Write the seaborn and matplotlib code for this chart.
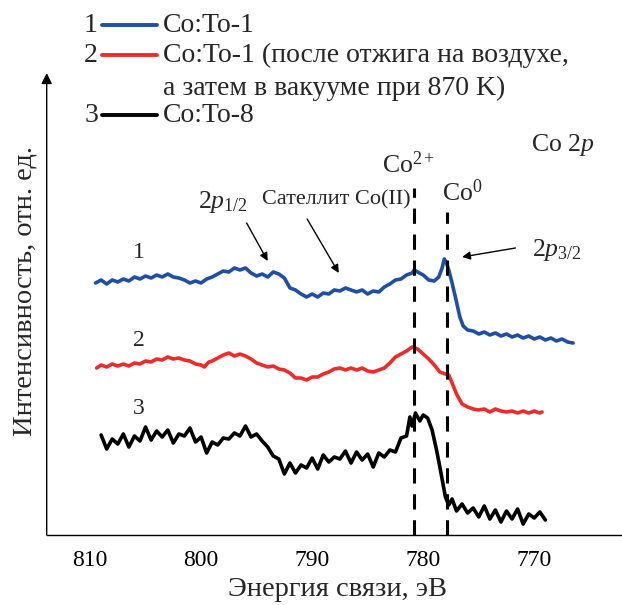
import matplotlib
matplotlib.use("Agg")
import matplotlib.pyplot as plt
import seaborn as sns
import pandas as pd
from matplotlib.lines import Line2D

# ---------------- data ----------------
e1 = [809.5, 809.0, 808.5, 808.0, 807.5, 807.0, 806.5, 806.0, 805.5, 805.0, 804.5, 804.0,
      803.5, 803.0, 802.5, 802.0, 801.5, 801.0, 800.5, 800.0, 799.5, 799.0, 798.5, 798.0,
      797.5, 797.0, 796.5, 796.0, 795.5, 795.0, 794.5, 794.0, 793.5, 793.0, 792.5, 792.0,
      791.5, 791.0, 790.5, 790.0, 789.5, 789.0, 788.5, 788.0, 787.5, 787.0, 786.5, 786.0,
      785.5, 785.0, 784.5, 784.0, 783.5, 783.0, 782.5, 782.0, 781.5, 781.0, 780.8, 780.5,
      780.0, 779.5, 779.0, 778.6, 778.3, 778.1, 777.9, 777.7, 777.4, 777.0, 776.7, 776.4,
      776.0, 775.5, 775.0, 774.5, 774.0, 773.5, 773.0, 772.5, 772.0, 771.5, 771.0, 770.5,
      770.0, 769.5, 769.0, 768.5, 768.0, 767.5, 767.0, 766.5]
i1 = [252, 255, 251, 255, 253, 256, 254, 258, 256, 259, 257, 260,
      258, 261, 258, 257, 255, 252, 254, 252, 256, 258, 261, 264,
      263, 267, 265, 267, 262, 259, 261, 258, 263, 261, 257, 247,
      245, 241, 238, 241, 238, 242, 241, 245, 244, 247, 245, 243,
      245, 241, 244, 243, 248, 251, 255, 256, 260, 262, 265, 263,
      260, 255, 254, 258, 267, 276, 272, 265, 252, 233, 218, 209,
      205, 204, 201, 203, 200, 202, 199, 201, 198, 200, 197, 199,
      196, 198, 195, 197, 194, 196, 193, 192]

e2 = [809.4, 809.0, 808.5, 808.0, 807.5, 807.0, 806.5, 806.0, 805.5, 805.0, 804.5, 804.0,
      803.5, 803.0, 802.5, 802.0, 801.5, 801.0, 800.5, 800.0, 799.7, 799.3, 799.0, 798.5,
      798.0, 797.5, 797.0, 796.5, 796.0, 795.5, 795.0, 794.5, 794.0, 793.5, 793.0, 792.5,
      792.0, 791.5, 791.0, 790.5, 790.0, 789.5, 789.0, 788.5, 788.0, 787.5, 787.0, 786.5,
      786.0, 785.5, 785.0, 784.5, 784.0, 783.5, 783.0, 782.5, 782.0, 781.5, 781.0, 780.5,
      780.0, 779.5, 779.0, 778.5, 778.0, 777.7, 777.4, 777.0, 776.5, 776.0, 775.5, 775.0,
      774.5, 774.0, 773.5, 773.0, 772.5, 772.0, 771.5, 771.0, 770.5, 770.0, 769.5, 769.3]
i2 = [167, 170, 168, 171, 169, 171, 169, 172, 171, 174, 173, 176,
      175, 178, 176, 177, 175, 174, 171, 170, 168, 173, 174, 177,
      180, 182, 179, 181, 179, 176, 172, 170, 168, 169, 166, 165,
      162, 157, 157, 155, 158, 158, 161, 163, 166, 167, 165, 167,
      165, 167, 164, 163, 165, 167, 172, 178, 181, 184, 188, 186,
      181, 176, 170, 163, 161, 160, 152, 141, 131, 128, 126, 125,
      126, 123, 126, 124, 123, 124, 122, 124, 122, 124, 122, 123]

e3 = [809.0, 808.5, 808.0, 807.5, 807.0, 806.5, 806.0, 805.5, 805.0, 804.5, 804.0, 803.5,
      803.0, 802.5, 802.0, 801.5, 801.0, 800.5, 800.0, 799.5, 799.0, 798.5, 798.0, 797.5,
      797.0, 796.5, 796.0, 795.5, 795.0, 794.5, 794.0, 793.5, 793.0, 792.5, 792.0, 791.5,
      791.0, 790.5, 790.0, 789.5, 789.0, 788.5, 788.0, 787.5, 787.0, 786.5, 786.0, 785.5,
      785.0, 784.5, 784.0, 783.5, 783.0, 782.5, 782.0, 781.5, 781.2, 781.0, 780.7, 780.3,
      780.0, 779.6, 779.2, 778.8, 778.5, 778.2, 778.0, 777.7, 777.4, 777.0, 776.5, 776.0,
      775.5, 775.0, 774.5, 774.0, 773.5, 773.0, 772.5, 772.0, 771.5, 771.0, 770.5, 770.0,
      769.5, 769.0]
i3 = [100, 86, 96, 91, 101, 88, 99, 94, 108, 95, 104, 98,
      105, 92, 101, 99, 107, 93, 98, 82, 93, 90, 97, 96,
      102, 99, 109, 98, 101, 94, 88, 79, 76, 61, 72, 62,
      70, 67, 77, 66, 80, 73, 78, 76, 84, 72, 83, 75,
      81, 68, 82, 78, 85, 83, 97, 99, 118, 109, 122, 114,
      120, 117, 105, 85, 68, 50, 38, 30, 36, 24, 31, 22,
      27, 18, 29, 16, 25, 13, 24, 16, 26, 11, 21, 17,
      23, 15]

series_names = ["1", "2", "3"]
series_colors = ["#1f4fa5", "#ee2b2b", "#000000"]
legend_labels = ["Co:To-1",
                 "Co:To-1 (после отжига на воздухе,\nа затем в вакууме при 870 K)",
                 "Co:To-8"]
x_ticks = [810, 800, 790, 780, 770]
peak_lines = [780.8, 777.9]
peak_tops = [347, 323]

df = pd.concat([
    pd.DataFrame({"E": e1, "I": i1, "s": "1"}),
    pd.DataFrame({"E": e2, "I": i2, "s": "2"}),
    pd.DataFrame({"E": e3, "I": i3, "s": "3"}),
])

# ---------------- style ----------------
sns.set_style("white")
plt.rcParams["font.family"] = ["Liberation Serif", "DejaVu Serif"]
plt.rcParams["mathtext.fontset"] = "custom"
plt.rcParams["mathtext.rm"] = "Liberation Serif"
plt.rcParams["mathtext.it"] = "Liberation Serif:italic"

W, H = 622, 605
fig = plt.figure(figsize=(W / 100, H / 100), dpi=100)
ax_l, ax_b, ax_t = 46.7, 535, 73
ax = fig.add_axes([ax_l / W, 1 - ax_b / H, 1 - ax_l / W, (ax_b - ax_t) / H])

sns.lineplot(data=df, x="E", y="I", hue="s", palette=dict(zip(series_names, series_colors)),
             estimator=None, sort=False, legend=False, linewidth=2.6, ax=ax)

ax.set_xlim(813.9, 762.1)
ax.set_ylim(0, ax_b - ax_t)
ax.set_xticks(x_ticks)
ax.set_xticklabels([str(t) for t in x_ticks])
ax.set_yticks([])
ax.set_xlabel("")
ax.set_ylabel("")
for s in ["top", "right", "left"]:
    ax.spines[s].set_visible(False)
ax.spines["bottom"].set_linewidth(1.0)
ax.spines["bottom"].set_color("black")
ax.tick_params(axis="x", direction="out", length=6, width=1, pad=5, labelsize=17, colors="black")

# y axis arrow
ax.annotate("", xy=(0, 1), xytext=(0, 0), xycoords="axes fraction",
            arrowprops=dict(arrowstyle="-|>", lw=1.0, color="black", mutation_scale=16,
                            shrinkA=0, shrinkB=0))

# dashed lines
for xv, top in zip(peak_lines, peak_tops):
    ax.plot([xv, xv], [0, top], color="black", lw=2.2, dashes=(5, 3.5))

# labels on the plot
fs = 18.5
ax.text(781.35, 370, "Co$^{2+}$", fontsize=fs, ha="center", va="center")
ax.text(776.5, 342, "Co$^{0}$", fontsize=fs, ha="center", va="center")
ax.text(767.4, 390, "Co 2$p$", fontsize=fs, ha="center", va="center")
ax.text(768.0, 285, "2$p_{3/2}$", fontsize=fs, ha="center", va="center")
ax.text(798.0, 333, "2$p_{1/2}$", fontsize=fs, ha="center", va="center")
ax.text(787.8, 335, "Сателлит Co(II)", fontsize=16, ha="center", va="center")
ax.text(805.6, 283, "1", fontsize=17, ha="center", va="center")
ax.text(805.6, 194, "2", fontsize=17, ha="center", va="center")
ax.text(805.6, 126, "3", fontsize=17, ha="center", va="center")

arrow_kw = dict(arrowstyle="-|>", lw=1.0, color="black", mutation_scale=12, shrinkA=0, shrinkB=0)
ax.annotate("", xy=(776.5, 278), xytext=(771.7, 287), arrowprops=arrow_kw)
ax.annotate("", xy=(794.0, 274), xytext=(795.9, 312), arrowprops=arrow_kw)
ax.annotate("", xy=(787.6, 262), xytext=(790.45, 316), arrowprops=arrow_kw)

# x label and y label
fig.text(338 / W, 1 - 589 / H, "Энергия связи, эВ", fontsize=20.5, ha="center", va="center")
fig.text(25.5 / W, 1 - 291 / H, "Интенсивность, отн. ед.", fontsize=20.5, ha="center",
         va="center", rotation=90)

# manual legend
rows_y = [25, 55, 115]
row2_cont_y = 88
lfs = 20
for name, col, lab, yy in zip(series_names, series_colors, legend_labels, rows_y):
    fy = 1 - yy / H
    fig.text(91 / W, fy, name, fontsize=lfs, ha="center", va="center")
    fig.add_artist(Line2D([102 / W, 157 / W], [fy, fy], color=col, lw=2.8,
                          transform=fig.transFigure))
    parts = lab.split("\n")
    fig.text(163 / W, fy, parts[0], fontsize=lfs, ha="left", va="center")
    if len(parts) > 1:
        fig.text(163 / W, 1 - row2_cont_y / H, parts[1], fontsize=lfs, ha="left", va="center")

fig.savefig("out.png", dpi=100)
